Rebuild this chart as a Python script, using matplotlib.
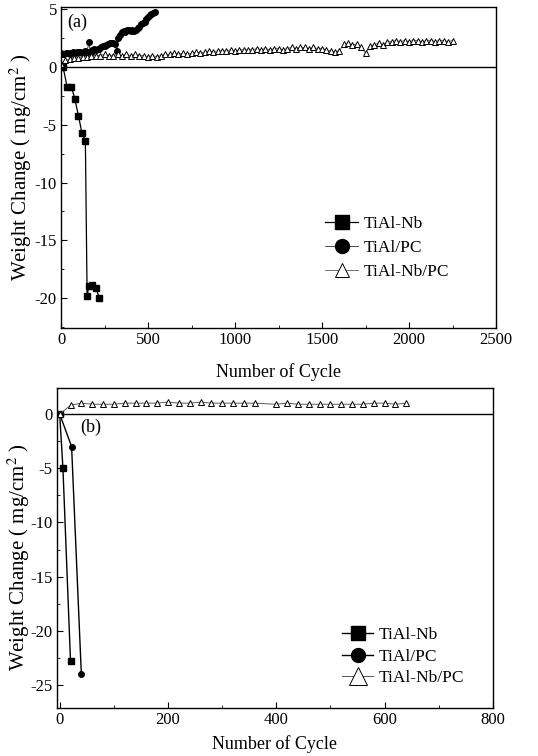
import numpy as np
import matplotlib
matplotlib.use("Agg")
import matplotlib.pyplot as plt
from matplotlib.ticker import MultipleLocator, AutoMinorLocator

plt.rcParams['font.family'] = 'serif'
plt.rcParams['font.serif'] = ['Liberation Serif', 'DejaVu Serif']
plt.rcParams['mathtext.fontset'] = 'stix'
plt.rcParams['axes.unicode_minus'] = False

# ---- panel (a) data ----
a_nb_cyc = [0, 12, 35, 60, 80, 100, 120, 140, 150, 160, 180, 200, 220]
a_nb_val = [0.0, 0.0, -1.7, -1.7, -2.8, -4.2, -5.7, -6.4, -19.8, -19.0, -18.9, -19.1, -20.0]

a_pc_cyc = list(range(0, 550, 10))
a_pc_val = [1.2, 1.1, 1.1, 1.2, 1.2, 1.1, 1.2, 1.3, 1.2, 1.3,
            1.3, 1.3, 1.2, 1.3, 1.4, 1.3, 2.2, 1.2, 1.5, 1.6,
            1.5, 1.6, 1.6, 1.7, 1.8, 1.8, 1.9, 2.0, 2.1, 2.1,
            2.1, 2.0, 1.4, 2.5, 2.8, 3.0, 3.1, 3.0, 3.2, 3.2,
            3.1, 3.2, 3.1, 3.2, 3.4, 3.5, 3.7, 3.8, 3.9, 4.2,
            4.3, 4.5, 4.6, 4.7, 4.8]

a_nbpc_cyc = list(range(0, 2275, 25))
a_nbpc_val = [0.3, 0.6, 0.7, 0.8, 0.8, 0.9, 0.9, 1.0, 1.0, 1.0,
              1.1, 1.0, 1.0, 1.1, 1.0, 1.1, 1.0, 1.1, 1.0, 1.0,
              0.9, 1.0, 0.9, 1.0, 1.1, 1.1, 1.2, 1.1, 1.2, 1.1,
              1.2, 1.3, 1.2, 1.3, 1.4, 1.3, 1.4, 1.4, 1.4, 1.5,
              1.4, 1.5, 1.5, 1.5, 1.5, 1.6, 1.5, 1.6, 1.5, 1.6,
              1.6, 1.5, 1.6, 1.7, 1.6, 1.7, 1.7, 1.6, 1.7, 1.6,
              1.6, 1.5, 1.4, 1.3, 1.4, 2.0, 2.1, 1.9, 2.0, 1.7,
              1.2, 1.8, 1.9, 2.1, 1.9, 2.2, 2.2, 2.3, 2.2, 2.3,
              2.2, 2.3, 2.3, 2.2, 2.3, 2.3, 2.2, 2.3, 2.3, 2.2,
              2.3]

# ---- panel (b) data ----
b_nb_cyc = [0, 6, 20]
b_nb_val = [0.0, -5.0, -22.8]

b_pc_cyc = [0, 22, 40]
b_pc_val = [0.0, -3.0, -24.0]

b_nbpc_cyc = [0, 20, 40, 60, 80, 100, 120, 140, 160, 180, 200, 220, 240, 260,
              280, 300, 320, 340, 360, 400, 420, 440, 460, 480, 500, 520, 540,
              560, 580, 600, 620, 640]
b_nbpc_val = [0.0, 0.8, 1.0, 0.9, 0.9, 0.9, 1.0, 1.0, 1.0, 1.0, 1.1, 1.0, 1.0, 1.1,
              1.0, 1.0, 1.0, 1.0, 1.0, 0.9, 1.0, 0.9, 0.9, 0.9, 0.9, 0.9, 0.9,
              0.9, 1.0, 1.0, 0.9, 1.0]

labels = ['TiAl-Nb', 'TiAl/PC', 'TiAl-Nb/PC']

fig = plt.figure(figsize=(5.38, 7.56), dpi=100)
ax1 = fig.add_axes([0.1134, 0.5661, 0.8086, 0.4246])
ax2 = fig.add_axes([0.1059, 0.0635, 0.8104, 0.4233])


def style(ax, xpad, ylab_x, ylab_y):
    ax.tick_params(which='both', direction='in', labelsize=12, pad=3)
    ax.tick_params(which='major', length=4, width=0.8)
    ax.tick_params(which='minor', length=2, width=0.6)
    ax.xaxis.set_minor_locator(AutoMinorLocator(2))
    ax.yaxis.set_minor_locator(AutoMinorLocator(2))
    for s in ax.spines.values():
        s.set_linewidth(1.0)
    ax.axhline(0, color='k', lw=1.0, zorder=1)
    ax.set_xlabel('Number of Cycle', fontsize=13, labelpad=xpad)
    ax.set_ylabel('Weight Change ( mg/cm$^2$ )', fontsize=15)
    ax.yaxis.set_label_coords(ylab_x, ylab_y)


# panel (a)
ax1.plot(a_nb_cyc, a_nb_val, color='k', lw=0.9, marker='s', ms=4, label=labels[0])
ax1.plot(a_pc_cyc, a_pc_val, color='k', lw=0.5, marker='o', ms=4, label=labels[1])
ax1.plot(a_nbpc_cyc, a_nbpc_val, color='0.35', lw=0.6, marker='^', ms=4,
         mfc='white', mec='k', mew=0.7, label=labels[2])
ax1.set_xlim(0, 2500)
ax1.set_ylim(-22.6, 5.2)
ax1.xaxis.set_major_locator(MultipleLocator(500))
ax1.yaxis.set_major_locator(MultipleLocator(5))
style(ax1, 11, -0.062, 0.50)
ax1.text(0.014, 0.953, '(a)', transform=ax1.transAxes, fontsize=13, va='center', ha='left')
ax1.legend(loc='upper left', bbox_to_anchor=(0.607, 0.35), frameon=False, fontsize=12.5,
           markerscale=2.5, handlelength=1.9, handletextpad=0.3, labelspacing=0.45,
           borderpad=0, borderaxespad=0)

# panel (b)
ax2.plot(b_nb_cyc, b_nb_val, color='k', lw=1.0, marker='s', ms=4, label=labels[0])
ax2.plot(b_pc_cyc, b_pc_val, color='k', lw=1.0, marker='o', ms=4, label=labels[1])
ax2.plot(b_nbpc_cyc, b_nbpc_val, color='0.35', lw=0.7, marker='^', ms=5,
         mfc='white', mec='k', mew=0.7, label=labels[2])
ax2.set_xlim(-5, 800)
ax2.set_ylim(-27.1, 2.4)
ax2.xaxis.set_major_locator(MultipleLocator(200))
ax2.yaxis.set_major_locator(MultipleLocator(5))
style(ax2, 5, -0.057, 0.47)
ax2.text(0.053, 0.878, '(b)', transform=ax2.transAxes, fontsize=13, va='center', ha='left')
ax2.legend(loc='upper left', bbox_to_anchor=(0.654, 0.2525), frameon=False, fontsize=12.5,
           markerscale=2.5, handlelength=1.8, handletextpad=0.3, labelspacing=0.3,
           borderpad=0, borderaxespad=0)

fig.savefig('out.png', dpi=100)
